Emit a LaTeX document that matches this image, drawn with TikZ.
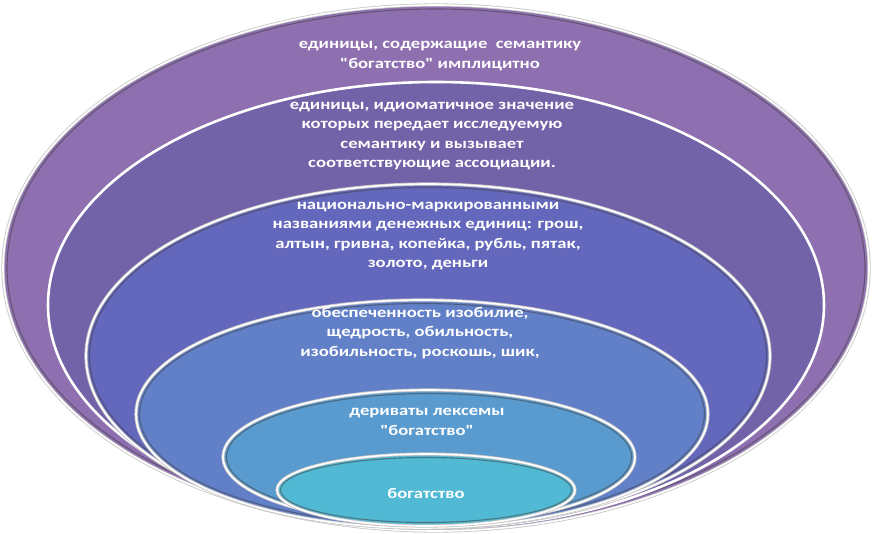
\documentclass[tikz,border=0pt]{standalone}
\usepackage{fontspec}
\newfontfamily\labfont{Carlito}[FakeStretch=1.26]
\begin{document}
\begin{tikzpicture}[x=1pt,y=-1pt,
  lbl/.style={text=white,align=center,font=\labfont\bfseries\fontsize{14.8}{19.5}\selectfont,inner sep=0pt},
  rim/.style={draw=gray!45,line width=3.2pt},
  rimw/.style={draw=white,line width=1.6pt},
  inner/.style={draw=black!75,line width=1.1pt,opacity=0.55}]
\useasboundingbox (0,0) rectangle (877,533);
\definecolor{cA}{HTML}{8E70B0}
\definecolor{cB}{HTML}{7262A8}
\definecolor{cC}{HTML}{6468BC}
\definecolor{cD}{HTML}{6280C8}
\definecolor{cE}{HTML}{5A9BCF}
\definecolor{cF}{HTML}{52B9D4}
% outer ellipse
\fill[cA] (436,268) ellipse [x radius=433, y radius=263];
\draw[rim] (436,268) ellipse [x radius=433, y radius=263];
\draw[rimw] (436,268) ellipse [x radius=433, y radius=263];
\draw[inner] (436,268) ellipse [x radius=429, y radius=259];
% second ellipse
\fill[cB] (436,305) ellipse [x radius=388, y radius=223];
\draw[white,line width=2.6pt] (436,305) ellipse [x radius=388, y radius=223];
% third
\fill[cC] (428,356) ellipse [x radius=342, y radius=172];
\draw[rim] (428,356) ellipse [x radius=342, y radius=172];
\draw[rimw] (428,356) ellipse [x radius=342, y radius=172];
\draw[inner] (428,356) ellipse [x radius=338.5, y radius=168.5];
% fourth
\fill[cD] (422,414) ellipse [x radius=286, y radius=114];
\draw[rim] (422,414) ellipse [x radius=286, y radius=114];
\draw[rimw] (422,414) ellipse [x radius=286, y radius=114];
\draw[inner] (422,414) ellipse [x radius=282.5, y radius=110.5];
% fifth
\fill[cE] (429,457) ellipse [x radius=206, y radius=67];
\draw[rim] (429,457) ellipse [x radius=206, y radius=67];
\draw[rimw] (429,457) ellipse [x radius=206, y radius=67];
\draw[inner] (429,457) ellipse [x radius=202.5, y radius=63.5];
% sixth
\fill[cF] (426,490) ellipse [x radius=149, y radius=36];
\draw[rim] (426,490) ellipse [x radius=149, y radius=36];
\draw[rimw] (426,490) ellipse [x radius=149, y radius=36];
\draw[inner] (426,490) ellipse [x radius=145.5, y radius=32.5];
% labels
\node[lbl] (t1) at (440,56) {единицы, содержащие\ \ семантику\\"богатство" имплицитно};
\node[lbl] (t2) at (432,136) {единицы, идиоматичное значение\\которых передает исследуемую\\семантику и вызывает\\соответствующие ассоциации.};
\node[lbl] (t3) at (428,236) {национально-маркированными\\названиями денежных единиц: грош,\\алтын, гривна, копейка, рубль, пятак,\\золото, деньги};
\node[lbl] (t4) at (420,333) {обеспеченность изобилие,\\щедрость, обильность,\\изобильность, роскошь, шик,};
\node[lbl] (t5) at (427,422) {дериваты лексемы\\"богатство"};
\node[lbl] (t6) at (426,493) {богатство};
\end{tikzpicture}
\end{document}
